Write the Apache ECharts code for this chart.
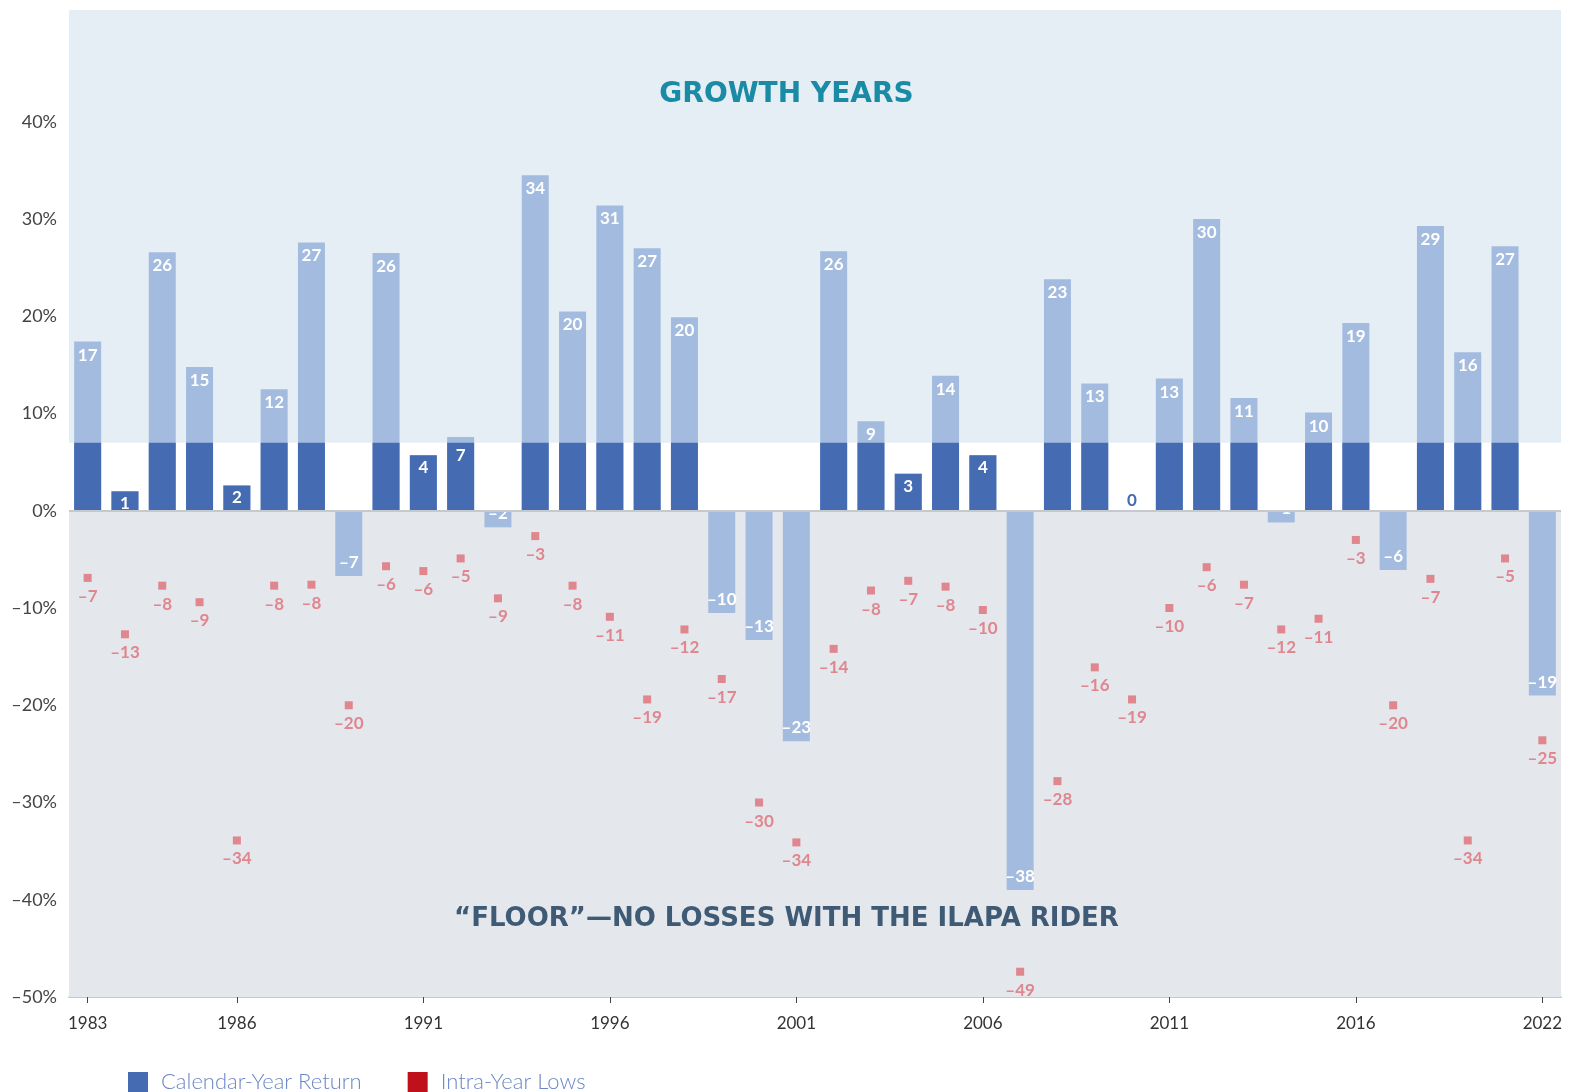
<!DOCTYPE html>
<html>
<head>
<meta charset="utf-8">
<script src="https://cdn.jsdelivr.net/npm/echarts@6/dist/echarts.min.js"></script>
<style>
html,body{margin:0;padding:0;background:#fff;}
#c{width:1573px;height:1092px;}
</style>
</head>
<body>
<div id="c"></div>
<script>
// ---- data ----
const years = ['1983','1984','1985','1986','1987','1988','1989','1990','1991','1992',
  '1993','1994','1995','1996','1997','1998','1999','2000','2001','2002',
  '2003','2004','2005','2006','2007','2008','2009','2010','2011','2012',
  '2013','2014','2015','2016','2017','2018','2019','2020','2021','2022'];
// calendar-year return (bar heights as drawn)
const returns = [17.4, 2.0, 26.6, 14.8, 2.6, 12.5, 27.6, -6.7, 26.5, 5.7,
  7.6, -1.7, 34.5, 20.5, 31.4, 27.0, 19.9, -10.5, -13.3, -23.7,
  26.7, 9.2, 3.8, 13.9, 5.7, -39.0, 23.8, 13.1, 0, 13.6,
  30.0, 11.6, -1.2, 10.1, 19.3, -6.1, 29.3, 16.3, 27.2, -19.0];
// printed calendar-year labels
const returnLabels = [17, 1, 26, 15, 2, 12, 27, -7, 26, 4,
  7, -2, 34, 20, 31, 27, 20, -10, -13, -23,
  26, 9, 3, 14, 4, -38, 23, 13, 0, 13,
  30, 11, -1, 10, 19, -6, 29, 16, 27, -19];
// intra-year lows (marker positions as drawn)
const lows = [-6.9, -12.7, -7.7, -9.4, -33.9, -7.7, -7.6, -20.0, -5.7, -6.2,
  -4.9, -9.0, -2.6, -7.7, -10.9, -19.4, -12.2, -17.3, -30.0, -34.1,
  -14.2, -8.2, -7.2, -7.8, -10.2, -47.4, -27.8, -16.1, -19.4, -10.0,
  -5.8, -7.6, -12.2, -11.1, -3.0, -20.0, -7.0, -33.9, -4.9, -23.6];
// printed intra-year low labels
const lowLabels = [-7, -13, -8, -9, -34, -8, -8, -20, -6, -6,
  -5, -9, -3, -8, -11, -19, -12, -17, -30, -34,
  -14, -8, -7, -8, -10, -49, -28, -16, -19, -10,
  -6, -7, -12, -11, -3, -20, -7, -34, -5, -25];
// x-axis tick labels as printed, and the bar slot each sits under
const tickLabels = ['1983','1986','1991','1996','2001','2006','2011','2016','2022'];
const tickSlots = [0, 4, 9, 14, 19, 24, 29, 34, 39];
const FLOOR_CAP = 7;

// ---- build ----
const fmt = v => (v < 0 ? '\u2013' + Math.abs(v) : String(v));
const slotLabels = years.map(() => '');
tickSlots.forEach((s, i) => { slotLabels[s] = tickLabels[i]; });

const FONT = 'Lato, "Open Sans", sans-serif';
const TFONT = '"DejaVu Sans", sans-serif';
const lightData = returns.map((v, i) => {
  const lab = returnLabels[i];
  const showLight = v < 0 || v > FLOOR_CAP + 1;
  return {
    value: v,
    label: {
      show: showLight,
      position: v < 0 ? 'insideBottom' : 'insideTop',
      distance: 5,
      formatter: () => fmt(lab)
    }
  };
});
const darkData = returns.map((v, i) => {
  const lab = returnLabels[i];
  if (v < 0) return { value: '-' };
  const showDark = v <= FLOOR_CAP + 1;
  return {
    value: Math.min(v, FLOOR_CAP),
    label: {
      show: showDark,
      position: v === 0 ? 'top' : 'insideTop',
      distance: v === 0 ? 2 : 4,
      color: v === 0 ? '#456CB3' : '#fff',
      formatter: () => fmt(lab)
    }
  };
});
const lowData = lows.map((v, i) => ({ value: v, lab: lowLabels[i] }));

const chart = echarts.init(document.getElementById('c'));
chart.setOption({
  animation: false,
  backgroundColor: '#fff',
  title: [
    { text: 'GROWTH YEARS', left: 'center', top: 76,
      textStyle: { fontFamily: TFONT, fontWeight: 'bold', fontSize: 28, color: '#1A8BA5' } },
    { text: '\u201cFLOOR\u201d\u2014NO LOSSES WITH THE ILAPA RIDER', left: 'center', top: 901,
      textStyle: { fontFamily: TFONT, fontWeight: 'bold', fontSize: 26, color: '#3E5A74' } }
  ],
  legend: {
    left: 123, top: 1066, itemWidth: 20, itemHeight: 20, itemGap: 46, icon: 'rect',
    textStyle: { fontFamily: FONT, fontSize: 22, fontWeight: 300, color: '#6A86C6', padding: [0, 0, 0, 8] },
    data: [
      { name: 'Calendar-Year Return', itemStyle: { color: '#456CB3', opacity: 1 } },
      { name: 'Intra-Year Lows', itemStyle: { color: '#BE111B', opacity: 1 } }
    ]
  },
  grid: { left: 69, right: 12, top: 10, bottom: 95 },
  xAxis: [
    { type: 'category', data: years, show: false },
    { type: 'category', data: slotLabels, position: 'bottom',
      axisLine: { show: true, lineStyle: { color: '#C5C8CC', width: 2 } },
      axisTick: { show: true, alignWithLabel: true, length: 6, lineStyle: { color: '#444' },
        interval: (i, v) => v !== '' },
      axisLabel: { interval: 0, margin: 18, fontFamily: FONT, fontSize: 17, color: '#333' } }
  ],
  yAxis: {
    type: 'value', min: -50, max: 51.5, interval: 10,
    axisLine: { show: false }, axisTick: { show: false }, splitLine: { show: false },
    axisLabel: { margin: 12, fontFamily: FONT, fontSize: 18, color: '#444',
      formatter: v => (v > 40.5 ? '' : fmt(v) + '%') }
  },
  series: [
    { type: 'line', name: 'bg', data: [], z: 0, silent: true,
      markArea: { silent: true, data: [
        [{ yAxis: FLOOR_CAP, itemStyle: { color: '#E6EEF5' } }, { yAxis: 51.5 }],
        [{ yAxis: -50, itemStyle: { color: '#E4E7EC' } }, { yAxis: 0 }]
      ] },
      markLine: { silent: true, symbol: 'none', label: { show: false },
        lineStyle: { color: '#C5C8CC', width: 2, type: 'solid' }, data: [{ yAxis: 0 }] }
    },
    { type: 'bar', name: 'Return (full)', data: lightData, barWidth: 27, z: 2,
      itemStyle: { color: '#A3BBDF' },
      label: { fontFamily: FONT, fontWeight: 'bold', fontSize: 17, color: '#fff' } },
    { type: 'bar', name: 'Calendar-Year Return', data: darkData, barWidth: 27, barGap: '-100%', z: 3,
      itemStyle: { color: '#456CB3' },
      label: { fontFamily: FONT, fontWeight: 'bold', fontSize: 17, color: '#fff' } },
    { type: 'scatter', name: 'Intra-Year Lows', data: lowData, symbol: 'rect', symbolSize: 8, z: 4,
      itemStyle: { color: '#E0868E', opacity: 1 },
      label: { show: true, position: 'bottom', distance: 6, fontFamily: FONT, fontWeight: 'bold',
        fontSize: 17, color: '#E0868E', formatter: p => fmt(p.data.lab) } }
  ]
});
</script>
</body>
</html>
